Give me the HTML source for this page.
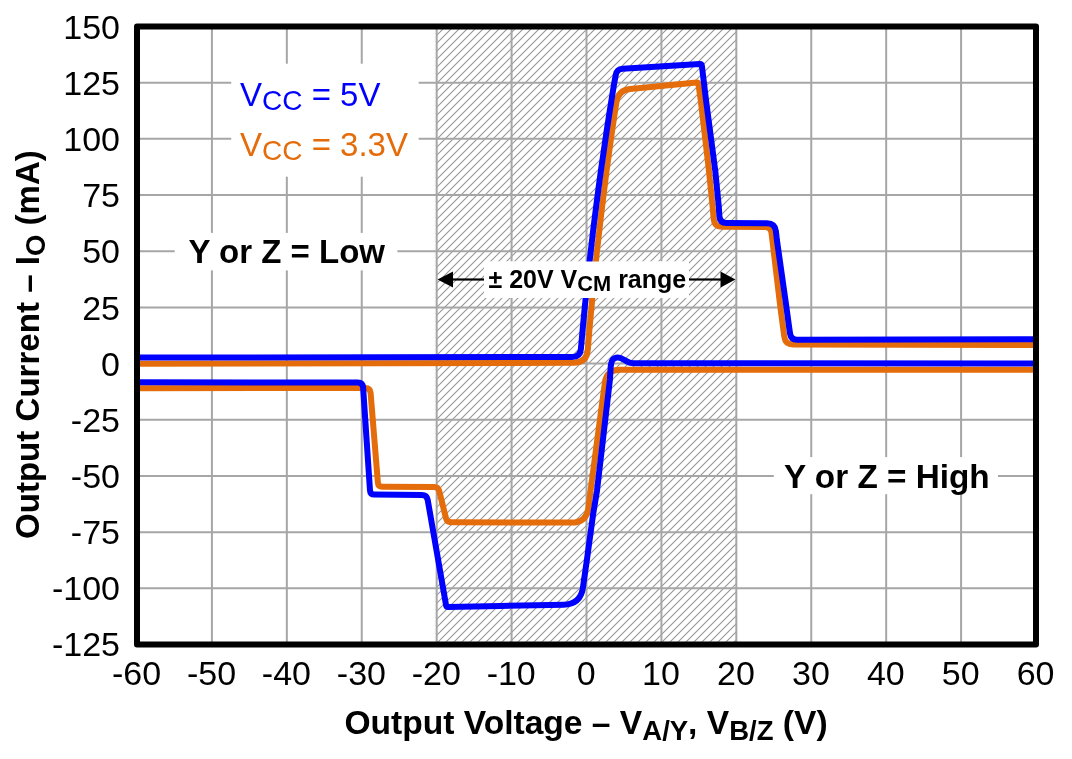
<!DOCTYPE html>
<html><head><meta charset="utf-8"><style>
html,body{margin:0;padding:0;background:#fff;}
svg{display:block;will-change:transform;}
text{font-family:"Liberation Sans",Arial,sans-serif;}
</style></head><body>
<svg width="1072" height="759" viewBox="0 0 1072 759">
<defs>
<pattern id="hatch" patternUnits="userSpaceOnUse" x="0" y="0" width="8" height="8">
<path d="M0,0h1v1h-1zM0,6h1v1h-1zM1,5h1v1h-1zM1,7h1v1h-1zM2,4h1v1h-1zM2,6h1v1h-1zM3,3h1v1h-1zM3,5h1v1h-1zM4,2h1v1h-1zM4,4h1v1h-1zM5,1h1v1h-1zM5,3h1v1h-1zM6,0h1v1h-1zM6,2h1v1h-1zM7,1h1v1h-1zM7,7h1v1h-1z" fill="#e2e2e2" shape-rendering="crispEdges"/><path d="M0,7h1v1h-1zM1,6h1v1h-1zM2,5h1v1h-1zM3,4h1v1h-1zM4,3h1v1h-1zM5,2h1v1h-1zM6,1h1v1h-1zM7,0h1v1h-1z" fill="#9a9a9a" shape-rendering="crispEdges"/>
</pattern>
<clipPath id="pc"><rect x="137" y="26.5" width="899" height="618.0"/></clipPath>
</defs>
<rect x="0" y="0" width="1072" height="759" fill="#fff"/>
<rect x="436.67" y="26.5" width="299.67" height="618.0" fill="url(#hatch)"/>
<g stroke="#a6a6a6" stroke-width="2">
<line x1="211.92" y1="26.5" x2="211.92" y2="644.5"/><line x1="286.83" y1="26.5" x2="286.83" y2="644.5"/><line x1="361.75" y1="26.5" x2="361.75" y2="644.5"/><line x1="436.67" y1="26.5" x2="436.67" y2="644.5"/><line x1="511.58" y1="26.5" x2="511.58" y2="644.5"/><line x1="586.50" y1="26.5" x2="586.50" y2="644.5"/><line x1="661.42" y1="26.5" x2="661.42" y2="644.5"/><line x1="736.33" y1="26.5" x2="736.33" y2="644.5"/><line x1="811.25" y1="26.5" x2="811.25" y2="644.5"/><line x1="886.17" y1="26.5" x2="886.17" y2="644.5"/><line x1="961.08" y1="26.5" x2="961.08" y2="644.5"/><line x1="137" y1="588.32" x2="1036" y2="588.32"/><line x1="137" y1="532.14" x2="1036" y2="532.14"/><line x1="137" y1="475.95" x2="1036" y2="475.95"/><line x1="137" y1="419.77" x2="1036" y2="419.77"/><line x1="137" y1="363.59" x2="1036" y2="363.59"/><line x1="137" y1="307.41" x2="1036" y2="307.41"/><line x1="137" y1="251.23" x2="1036" y2="251.23"/><line x1="137" y1="195.05" x2="1036" y2="195.05"/><line x1="137" y1="138.86" x2="1036" y2="138.86"/><line x1="137" y1="82.68" x2="1036" y2="82.68"/>
</g>
<g fill="#fff">
<rect x="484" y="261.5" width="205" height="36.5"/>
<rect x="174.7" y="232.9" width="222.7" height="37.5"/>
<rect x="773.8" y="457.1" width="224.2" height="37.1"/>
<rect x="231.2" y="63.7" width="187.5" height="113"/>
</g>
<g clip-path="url(#pc)" fill="none" stroke-linejoin="round" stroke-linecap="butt" stroke-width="6">
<path d="M137.0,363.7 L573.8,362.8 Q586.8,362.8 587.8,349.8 L589.4,330.0 L591.2,310.0 L593.1,290.0 L595.0,270.0 L597.1,250.0 L599.4,230.0 L601.7,210.0 L604.2,190.0 L606.7,170.0 L609.4,150.0 L612.2,130.0 L613.7,120.0 L616.4,102.2 Q618.2,90.3 630.1,89.1 L696.7,82.4 Q698.2,82.3 698.4,83.8 L700.7,100.0 L709.0,171.1 L712.6,206.7 L713.8,219.8 Q714.5,226.8 721.5,226.8 L765.0,227.0 Q770.8,227.0 771.5,232.8 L772.2,238.6 L779.9,303.3 L783.0,327.0 L784.3,336.7 Q785.3,344.6 793.3,344.6 L1036.0,345.0" stroke="#e46c0a"/>
<path d="M137.0,388.2 L365.2,388.0 Q370.2,388.0 370.6,393.0 L377.9,482.7 Q378.2,486.7 382.2,486.7 L434.2,487.0 Q438.2,487.0 439.2,490.9 L446.0,518.3 Q447.0,522.2 451.0,522.2 L571.5,522.6 Q586.5,522.7 588.4,507.8 L590.6,490.7 L599.9,420.0 L604.9,382.6 Q606.6,369.7 619.6,369.7 L1036.0,369.7" stroke="#e46c0a"/>
<path d="M137.0,357.6 L572.2,357.0 Q580.2,357.0 580.9,349.0 L582.6,330.0 L584.5,310.0 L586.5,290.0 L588.6,270.0 L590.9,250.0 L593.2,230.0 L595.7,210.0 L598.3,190.0 L601.0,170.0 L603.9,150.0 L606.8,130.0 L609.9,110.0 L612.3,95.0 L613.9,85.0 L615.7,75.1 Q616.7,69.2 622.7,68.8 L699.7,64.1 Q701.7,64.0 701.9,66.0 L706.0,100.0 L715.3,171.1 L718.8,206.7 L719.4,216.0 Q719.8,223.0 726.8,223.0 L767.0,223.3 Q775.0,223.3 775.9,231.2 L776.9,240.0 L785.9,303.3 L789.1,327.0 L790.1,333.8 Q791.0,339.7 797.0,339.7 L1036.0,339.3" stroke="#0000ff"/>
<path d="M137.0,382.3 L357.8,382.5 Q362.8,382.5 363.1,387.5 L370.0,490.5 Q370.3,494.5 374.3,494.5 L421.8,495.0 Q426.8,495.0 427.7,499.9 L446.1,605.4 Q446.4,606.9 447.9,606.9 L500.0,606.0 L563.5,604.8 Q580.5,604.5 582.9,587.7 L586.8,560.6 L593.0,515.0 L597.0,490.7 L609.9,380.0 L610.6,368.0 C611.2,360 613,357.4 618,357.4 C623.5,357.4 626,363.3 634,363.3 L1036,363.4" stroke="#0000ff"/>
</g>
<g fill="#fff">
<rect x="484" y="261.5" width="205" height="36.5"/>
</g>
<g stroke="#000" stroke-width="2.2">
<line x1="452" y1="279.5" x2="484" y2="279.5"/>
<line x1="689" y1="279.5" x2="721" y2="279.5"/>
</g>
<path d="M437.5,279.5 L453,271.6 L453,287.4 Z M735.5,279.5 L720.5,271.6 L720.5,287.4 Z" fill="#000"/>
<text x="488.5" y="287.5" font-size="25" font-weight="bold">± 20V V<tspan font-size="21.8" dy="3.5">CM</tspan><tspan dy="-3.5"> range</tspan></text>
<text x="188.5" y="263" font-size="33" font-weight="bold">Y or Z = Low</text>
<text x="784" y="488" font-size="33.3" font-weight="bold">Y or Z = High</text>
<text x="240" y="105.5" font-size="33" fill="#0000ff">V<tspan font-size="28" dy="4.7">CC</tspan><tspan dy="-4.7"> = 5V</tspan></text>
<text x="240" y="155.5" font-size="33" fill="#e46c0a">V<tspan font-size="28" dy="4.7">CC</tspan><tspan dy="-4.7"> = 3.3V</tspan></text>
<rect x="137" y="26.5" width="899" height="618.0" fill="none" stroke="#000" stroke-width="6" stroke-linejoin="round"/>
<g font-size="34" fill="#000">
<text x="136.6" y="684.5" text-anchor="middle">-60</text><text x="211.5" y="684.5" text-anchor="middle">-50</text><text x="286.4" y="684.5" text-anchor="middle">-40</text><text x="361.4" y="684.5" text-anchor="middle">-30</text><text x="436.3" y="684.5" text-anchor="middle">-20</text><text x="511.2" y="684.5" text-anchor="middle">-10</text><text x="586.1" y="684.5" text-anchor="middle">0</text><text x="661.0" y="684.5" text-anchor="middle">10</text><text x="735.9" y="684.5" text-anchor="middle">20</text><text x="810.9" y="684.5" text-anchor="middle">30</text><text x="885.8" y="684.5" text-anchor="middle">40</text><text x="960.7" y="684.5" text-anchor="middle">50</text><text x="1035.6" y="684.5" text-anchor="middle">60</text>
<text x="120" y="655.9" text-anchor="end">-125</text><text x="120" y="599.8" text-anchor="end">-100</text><text x="120" y="543.7" text-anchor="end">-75</text><text x="120" y="487.7" text-anchor="end">-50</text><text x="120" y="431.6" text-anchor="end">-25</text><text x="120" y="375.6" text-anchor="end">0</text><text x="120" y="319.5" text-anchor="end">25</text><text x="120" y="263.4" text-anchor="end">50</text><text x="120" y="207.4" text-anchor="end">75</text><text x="120" y="151.3" text-anchor="end">100</text><text x="120" y="95.3" text-anchor="end">125</text><text x="120" y="39.2" text-anchor="end">150</text>
</g>
<text x="586" y="733.5" font-size="33.6" font-weight="bold" text-anchor="middle">Output Voltage – V<tspan font-size="27.5" dy="6">A/Y</tspan><tspan dy="-6">, V</tspan><tspan font-size="27.5" dy="6">B/Z</tspan><tspan dy="-6"> (V)</tspan></text>
<text transform="translate(38.5,344.6) rotate(-90)" font-size="33.1" font-weight="bold" text-anchor="middle">Output Current – I<tspan font-size="27.5" dy="6.5">O</tspan><tspan dy="-6.5"> (mA)</tspan></text>
</svg>
</body></html>
